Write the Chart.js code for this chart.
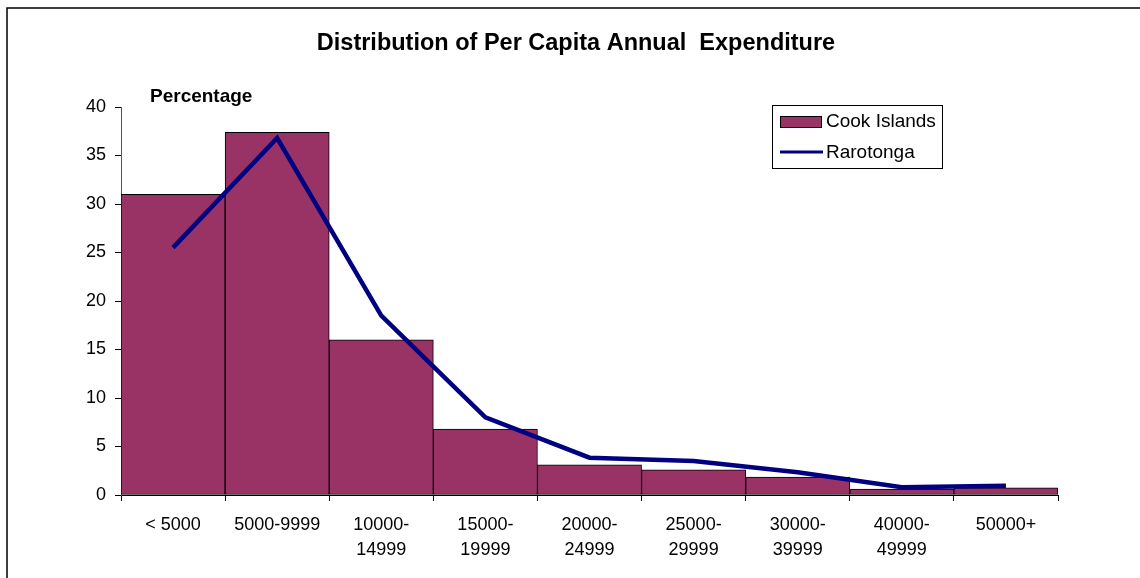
<!DOCTYPE html>
<html>
<head>
<meta charset="utf-8">
<script src="https://cdn.jsdelivr.net/npm/chart.js@4/dist/chart.umd.min.js"></script>
<style>
  body { margin: 0; background: #fff; }
  #wrap { position: absolute; left: 0; top: 0; width: 1140px; height: 578px; }
</style>
</head>
<body>
<div id="wrap"><canvas id="expend" width="1140" height="578"></canvas></div>
<script>
// data
const categories = [
    "< 5000", ["5000-9999"], ["10000-", "14999"], ["15000-", "19999"], ["20000-", "24999"],
    ["25000-", "29999"], ["30000-", "39999"], ["40000-", "49999"], ["50000+"]
];
const cookIslands = [31.0, 37.4, 16.0, 6.8, 3.1, 2.6, 1.85, 0.6, 0.75];
const rarotonga = [25.5, 36.8, 18.5, 8.0, 3.85, 3.5, 2.35, 0.8, 0.95];
const yTicks = [0, 5, 10, 15, 20, 25, 30, 35, 40];

const FONT = "'Liberation Sans', Arial, sans-serif";
const PLUM = "#993366";
const NAVY = "#000080";

// frame, title, axis caption and legend
const decorations = {
    id: "decorations",
    beforeDraw(chart) {
        const ctx = chart.ctx;
        ctx.save();
        ctx.fillStyle = "#fff";
        ctx.fillRect(0, 0, chart.width, chart.height);
        ctx.strokeStyle = "#000";
        ctx.lineWidth = 1.5;
        ctx.beginPath();
        ctx.moveTo(7, 578);
        ctx.lineTo(7, 8);
        ctx.lineTo(1140, 8);
        ctx.stroke();
        ctx.restore();
    },
    afterDraw(chart) {
        const ctx = chart.ctx;
        ctx.save();
        ctx.fillStyle = "#000";
        ctx.textBaseline = "middle";
        ctx.textAlign = "center";
        ctx.font = "bold 23.5px " + FONT;
        ctx.fillText("Distribution of Per Capita Annual  Expenditure", 576, 44);
        ctx.textAlign = "left";
        ctx.font = "bold 19px " + FONT;
        ctx.fillText("Percentage", 150, 97);

        // legend
        ctx.strokeStyle = "#000";
        ctx.lineWidth = 1;
        ctx.fillStyle = "#fff";
        ctx.fillRect(772.5, 105.5, 170, 63);
        ctx.strokeRect(772.5, 105.5, 170, 63);
        ctx.fillStyle = PLUM;
        ctx.fillRect(780.5, 116.5, 41, 11);
        ctx.strokeRect(780.5, 116.5, 41, 11);
        ctx.strokeStyle = NAVY;
        ctx.lineWidth = 3;
        ctx.beginPath();
        ctx.moveTo(780, 152);
        ctx.lineTo(823, 152);
        ctx.stroke();
        ctx.fillStyle = "#000";
        ctx.font = "19px " + FONT;
        ctx.fillText("Cook Islands", 826, 122);
        ctx.fillText("Rarotonga", 826, 153);
        ctx.restore();
    }
};

const expend = document.getElementById("expend");
const expendChart = new Chart(expend, {
    type: "bar",
    data: {
        labels: categories,
        datasets: [
            {
                type: "line",
                label: "Rarotonga",
                data: rarotonga,
                borderColor: NAVY,
                borderWidth: 4.5,
                pointRadius: 0,
                tension: 0,
                order: 0,
            },
            {
                label: "Cook Islands",
                data: cookIslands,
                backgroundColor: PLUM,
                borderColor: "#000",
                borderWidth: 1,
                borderSkipped: false,
                barPercentage: 1,
                categoryPercentage: 1,
                order: 1,
            },
        ],
    },
    options: {
        responsive: false,
        animation: false,
        layout: { padding: { left: 0, right: 82, top: 107, bottom: 0 } },
        plugins: {
            legend: { display: false },
            title: { display: false },
            tooltip: { enabled: false },
        },
        scales: {
            x: {
                grid: { display: true, drawOnChartArea: false, offset: true, tickLength: 6, color: "#000" },
                border: { color: "#000", width: 1 },
                ticks: {
                    color: "#000",
                    font: { family: FONT, size: 18, lineHeight: 1.39 },
                    padding: 12,
                    maxRotation: 0,
                    autoSkip: false,
                },
                afterFit(axis) { axis.height = 83; },
            },
            y: {
                min: 0,
                max: 40,
                afterBuildTicks(axis) { axis.ticks = yTicks.map(v => ({ value: v })); },
                grid: { display: true, drawOnChartArea: false, tickLength: 6, color: "#000" },
                border: { color: "#555", width: 1 },
                ticks: {
                    color: "#000",
                    font: { family: FONT, size: 18 },
                    padding: 9,
                },
                afterFit(axis) { axis.width = 121; },
            },
        },
    },
    plugins: [decorations],
});
</script>
</body>
</html>
